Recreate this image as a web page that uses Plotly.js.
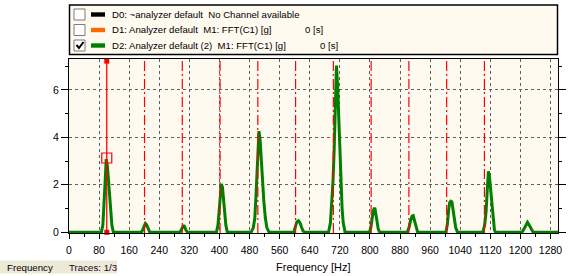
<!DOCTYPE html>
<html>
<head>
<meta charset="utf-8">
<script src="https://cdn.plot.ly/plotly-3.0.1.min.js"></script>
<style>html,body{margin:0;padding:0;background:#fff;}#chart{width:568px;height:276px;}</style>
</head>
<body>
<div id="chart"></div>
<script>
// ---- data ----
const freqHz = [0,
  86,90,93,96,99,102,105,108,111,114,118,
  193,197,200,203,206,210,215,
  295,299,302,305,308,311,315,
  392,396,399,402,405,408,411,414,417,421,
  484,490,494,497,499,502,505,508,511,514,518,522,526,532,
  598,602,606,610,614,618,622,626,
  690,695,699,702,705,708,711,714,717,720,723,726,729,734,
  799,803,806,810,813,816,819,822,826,
  899,904,908,912,915,918,922,927,
  1002,1006,1009,1012,1015,1018,1021,1024,1028,1033,
  1100,1105,1109,1112,1115,1118,1121,1124,1127,1131,1134,
  1204,1209,1214,1219,1223,1228,1234,
  1300];
const ampG = [0,
  0,0.3,1.0,2.1,3.08,2.8,2.2,1.5,0.8,0.3,0,
  0,0.15,0.3,0.37,0.32,0.14,0,
  0,0.12,0.26,0.3,0.22,0.08,0,
  0,0.3,0.9,1.5,2.04,1.9,1.4,0.8,0.3,0,
  0,0.2,0.6,1.5,2.4,3.6,4.26,3.9,3.0,2.2,1.3,0.6,0.2,0,
  0,0.25,0.45,0.49,0.4,0.22,0.06,0,
  0,0.4,1.2,2.2,3.5,5.2,7.02,6.2,4.8,3.4,2.1,1.0,0.4,0,
  0,0.25,0.6,0.95,1.03,0.8,0.45,0.15,0,
  0,0.2,0.5,0.68,0.7,0.55,0.25,0,
  0,0.35,0.9,1.25,1.31,1.28,0.95,0.55,0.2,0,
  0,0.3,0.9,1.8,2.57,2.3,1.8,1.2,0.6,0.1,0,
  0,0.12,0.3,0.42,0.32,0.14,0,
  0];
const cursorFreq = 100.4;
const cursorValue = 3.13;
const cursorTop = 7.21;
const harmonicFreqs = [200.8, 301.2, 401.6, 502.0, 602.4, 702.8, 803.2, 903.6, 1004.0, 1104.4];
const xTickVals = [0,80,160,240,320,400,480,560,640,720,800,880,960,1040,1120,1200,1280];
const yTickVals = [0,2,4,6];
const legendLabels = ["D0: ~analyzer default  No Channel available",
                      "D1: Analyzer default  M1: FFT(C1) [g]",
                      "D2: Analyzer default (2)  M1: FFT(C1) [g]"];
const legendTimes = ["", "0 [s]", "0 [s]"];
const legendColors = ["#000000", "#FF6A00", "#008000"];
const legendChecked = [false, false, true];

// ---- layout helpers ----
const W = 568, H = 276, ML = 69, MR = 10, MT = 59, MB = 43;
const PW = W - ML - MR, PH = H - MT - MB;
const yMin = -0.03, yMax = 7.3;
const P = px => (px - ML) / PW;
const Q = py => (MT + PH - py) / PH;
const FONT = "Liberation Sans, Arial, sans-serif";
const LFS = 9.6;

// harmonic cursor lines
const hx = [], hy = [];
harmonicFreqs.forEach(f => { hx.push(f, f, null); hy.push(yMin, yMax, null); });

const traces = [
  {x: freqHz, y: ampG, type: 'scatter', mode: 'lines',
   line: {color: '#008000', width: 3}, hoverinfo: 'skip'},
  {x: hx, y: hy, type: 'scatter', mode: 'lines',
   line: {color: '#FF0000', width: 1.2, dash: '10px,3px,2px,3px'}, hoverinfo: 'skip'},
  {x: [cursorFreq, cursorFreq], y: [0, cursorTop], type: 'scatter', mode: 'lines+markers',
   line: {color: '#FF0000', width: 1.3},
   marker: {symbol: 'square', size: 5, color: '#FF0000'}, cliponaxis: false, hoverinfo: 'skip'},
  {x: [cursorFreq], y: [cursorValue], type: 'scatter', mode: 'markers',
   marker: {symbol: 'square-open', size: 10, color: '#FF0000', line: {width: 1.2, color: '#FF0000'}},
   cliponaxis: false, hoverinfo: 'skip'}
];

const shapes = [];
const annotations = [];
// legend box
shapes.push({type: 'rect', xref: 'paper', yref: 'paper', x0: P(69.5), x1: P(557.5), y0: Q(54.5), y1: Q(5),
  fillcolor: '#FFFAF0', line: {color: '#000', width: 1.5}, layer: 'above'});
const rowY = [14.5, 30, 45.5];
rowY.forEach((ry, i) => {
  shapes.push({type: 'rect', xref: 'paper', yref: 'paper', x0: P(74), x1: P(85), y0: Q(ry + 5.5), y1: Q(ry - 5.5),
    fillcolor: '#FFFFFF', line: {color: '#7A7A7A', width: 1}, layer: 'above'});
  shapes.push({type: 'rect', xref: 'paper', yref: 'paper', x0: P(91), x1: P(105), y0: Q(ry + 2.2), y1: Q(ry - 2.2),
    fillcolor: legendColors[i], line: {width: 0}, layer: 'above'});
  if (legendChecked[i]) {
    shapes.push({type: 'path', xref: 'paper', yref: 'paper', layer: 'above',
      path: `M ${P(76.5)},${Q(ry - 0.5)} L ${P(79)},${Q(ry + 2.5)} L ${P(83.5)},${Q(ry - 3.5)}`,
      line: {color: '#000', width: 2}});
  }
  annotations.push({xref: 'paper', yref: 'paper', x: P(110), y: Q(ry), xanchor: 'left', yanchor: 'middle',
    text: legendLabels[i], showarrow: false, font: {family: FONT, size: LFS, color: '#000'}});
  if (legendTimes[i]) {
    annotations.push({xref: 'paper', yref: 'paper', x: P(i === 1 ? 302.5 : 317.5), y: Q(ry), xanchor: 'left', yanchor: 'middle',
      text: legendTimes[i], showarrow: false, font: {family: FONT, size: LFS, color: '#000'}});
  }
});
// status box bottom-left
shapes.push({type: 'rect', xref: 'paper', yref: 'paper', x0: P(0), x1: P(117), y0: Q(273.5), y1: Q(260.5),
  fillcolor: '#ECE9D8', line: {width: 0}, layer: 'above'});
annotations.push({xref: 'paper', yref: 'paper', x: P(5), y: Q(267), xanchor: 'left', yanchor: 'middle',
  text: 'Frequency', showarrow: false, font: {family: FONT, size: 9.7, color: '#000'}});
annotations.push({xref: 'paper', yref: 'paper', x: P(67), y: Q(267), xanchor: 'left', yanchor: 'middle',
  text: 'Traces: 1/3', showarrow: false, font: {family: FONT, size: 9.7, color: '#200020'}});
// x axis title
annotations.push({xref: 'paper', yref: 'paper', x: P(313.5), y: Q(267), xanchor: 'center', yanchor: 'middle',
  text: 'Frequency [Hz]', showarrow: false, font: {family: FONT, size: 11, color: '#000'}});

const layout = {
  width: W, height: H,
  margin: {l: ML, r: MR, t: MT, b: MB, pad: 0},
  paper_bgcolor: '#FFFFFF', plot_bgcolor: '#FFFAF0',
  showlegend: false,
  font: {family: FONT, size: 10.5, color: '#000'},
  xaxis: {range: [0, 1300], tickvals: xTickVals, ticktext: xTickVals.map(String),
    ticks: 'outside', ticklen: 5, tickcolor: '#000', tickwidth: 1, ticklabelstandoff: 2,
    showline: true, linecolor: '#000', linewidth: 1, mirror: true,
    showgrid: true, gridcolor: '#606060', gridwidth: 1, griddash: '3px,3px',
    zeroline: false, fixedrange: true,
    minor: {dtick: 40, tick0: 0, ticks: 'outside', ticklen: 3, tickcolor: '#000', showgrid: false},
    tickfont: {family: FONT, size: 10.5, color: '#000'}},
  yaxis: {range: [yMin, yMax], tickvals: yTickVals, ticktext: yTickVals.map(String),
    ticks: 'outside', ticklen: 7, tickcolor: '#000', tickwidth: 1,
    showline: true, linecolor: '#000', linewidth: 1, mirror: 'ticks',
    showgrid: true, gridcolor: '#606060', gridwidth: 1, griddash: '3px,3px',
    zeroline: false, fixedrange: true,
    minor: {dtick: 1, tick0: 0, ticks: 'outside', ticklen: 3, tickcolor: '#000', showgrid: false},
    tickfont: {family: FONT, size: 10.5, color: '#000'}},
  shapes: shapes,
  annotations: annotations
};

Plotly.newPlot('chart', traces, layout, {staticPlot: true, displayModeBar: false});
</script>
</body>
</html>
